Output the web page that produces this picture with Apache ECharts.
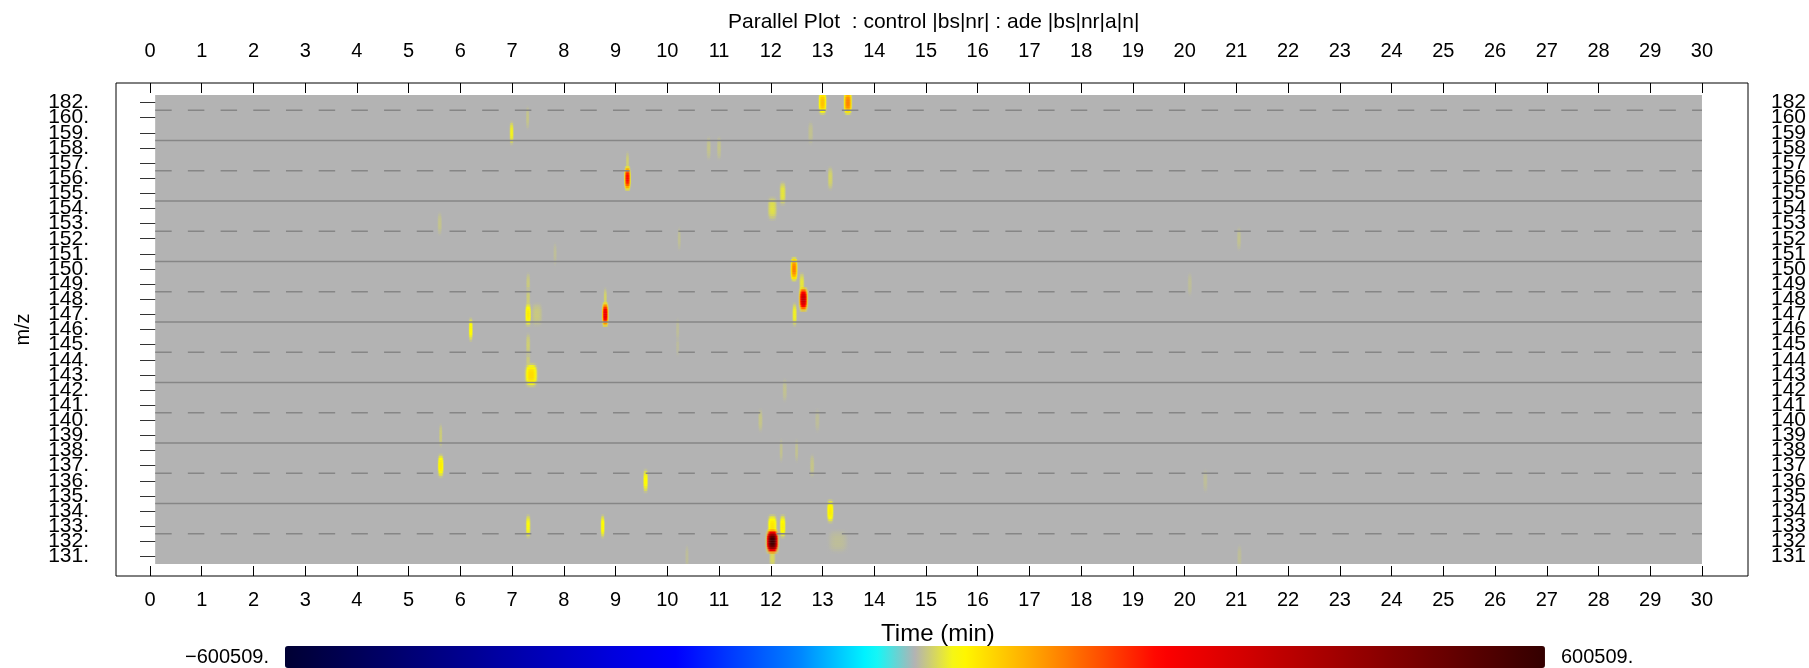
<!DOCTYPE html>
<html>
<head>
<meta charset="utf-8">
<script src="https://cdn.jsdelivr.net/npm/echarts@6/dist/echarts.min.js"></script>
<style>
html, body { margin: 0; padding: 0; background: #ffffff; }
#chart { width: 1809px; height: 668px; }
</style>
</head>
<body>
<div id="chart"></div>
<script>
// ---------------- data ----------------
const titleText = 'Parallel Plot  : control |bs|nr| : ade |bs|nr|a|n|';
const xAxisName = 'Time (min)';
const yAxisName = 'm/z';
const timeMin = 0;
const timeMax = 30;
const timeStep = 1;
const scanRange = [0.1, 30];           // acquired retention-time range (min)
const colorRange = [-600509, 600509];  // colour scale limits
const colorLabels = ['600509.', '\u2212600509.'];

// m/z rows, top to bottom
const mzCategories = ['182', '160', '159', '158', '157', '156', '155', '154', '153', '152',
  '151', '150', '149', '148', '147', '146', '145', '144', '143', '142', '141', '140',
  '139', '138', '137', '136', '135', '134', '133', '132', '131'];

// peaks: [retention time (min), m/z row, difference intensity, peak width (min)]
const peaks = [
  [13.00, '182', 90000, 0.22],
  [13.49, '182', 140000, 0.22],
  [7.30, '160', 10000, 0.10],
  [6.99, '159', 35000, 0.12],
  [12.77, '159', 8000, 0.15],
  [10.80, '158', 9000, 0.13],
  [11.00, '158', 9000, 0.13],
  [9.23, '157', 15000, 0.10],
  [9.23, '156', 230000, 0.17],
  [13.15, '156', 18000, 0.15],
  [12.23, '155', 28000, 0.18],
  [12.03, '154', 25000, 0.26],
  [5.60, '153', 9000, 0.13],
  [10.23, '152', 7000, 0.10],
  [21.05, '152', 8000, 0.13],
  [7.83, '151', 6000, 0.10],
  [12.45, '150', 140000, 0.19],
  [20.10, '149', 6000, 0.13],
  [12.60, '149', 28000, 0.15],
  [7.31, '149', 12000, 0.12],
  [7.31, '148', 14000, 0.12],
  [8.80, '148', 18000, 0.10],
  [12.63, '148', 330000, 0.23],
  [12.46, '147', 35000, 0.13],
  [7.48, '147', 12000, 0.30],
  [7.31, '147', 55000, 0.17],
  [8.80, '147', 270000, 0.17],
  [6.20, '146', 45000, 0.12],
  [10.20, '146', 6000, 0.10],
  [7.31, '145', 15000, 0.13],
  [10.20, '145', 5000, 0.10],
  [7.31, '144', 12000, 0.13],
  [7.37, '143', 70000, 0.34],
  [12.27, '142', 8000, 0.13],
  [11.80, '140', 10000, 0.13],
  [12.90, '140', 6000, 0.13],
  [5.62, '139', 14000, 0.10],
  [12.20, '138', 8000, 0.10],
  [12.50, '138', 8000, 0.10],
  [5.62, '137', 55000, 0.17],
  [12.80, '137', 10000, 0.13],
  [9.58, '136', 45000, 0.14],
  [20.40, '136', 6000, 0.13],
  [13.15, '134', 55000, 0.19],
  [7.31, '133', 40000, 0.14],
  [8.75, '133', 45000, 0.12],
  [12.03, '133', 60000, 0.26],
  [12.23, '133', 50000, 0.17],
  [13.30, '132', 6000, 0.55],
  [12.03, '132', 580000, 0.32],
  [12.03, '131', 20000, 0.18],
  [10.38, '131', 6000, 0.10],
  [21.06, '131', 6000, 0.13]
];

// colour map stops: [fraction of scale, [r, g, b]]
const cmapStops = [
  [0.000, [0, 0, 51]],
  [0.311, [0, 0, 255]],
  [0.406, [0, 128, 255]],
  [0.466, [0, 255, 255]],
  [0.500, [179, 179, 179]],
  [0.534, [255, 255, 0]],
  [0.594, [255, 165, 0]],
  [0.695, [255, 0, 0]],
  [1.000, [51, 0, 0]]
];

// ---------------- helpers ----------------
const FONT = '"Liberation Sans", Arial, Helvetica, sans-serif';

function cmap(v) {
  let f = (v - colorRange[0]) / (colorRange[1] - colorRange[0]);
  f = Math.max(0, Math.min(1, f));
  for (let i = 1; i < cmapStops.length; i++) {
    if (f <= cmapStops[i][0]) {
      const f0 = cmapStops[i - 1][0], c0 = cmapStops[i - 1][1];
      const f1 = cmapStops[i][0], c1 = cmapStops[i][1];
      const u = (f - f0) / (f1 - f0);
      return c0.map((x, k) => Math.round(x + (c1[k] - x) * u));
    }
  }
  return cmapStops[cmapStops.length - 1][1];
}
function rgba(c, a) { return 'rgba(' + c[0] + ',' + c[1] + ',' + c[2] + ',' + a.toFixed(3) + ')'; }
function profile(d, s) { return Math.exp(-Math.pow(Math.abs(d) / s, 3) / 2); }

const barColors = [];
for (let i = 0; i <= 200; i++) {
  const c = cmap(colorRange[0] + (colorRange[1] - colorRange[0]) * i / 200);
  barColors.push(rgba(c, 1));
}

const sortedPeaks = peaks.slice().sort((a, b) => Math.abs(a[2]) - Math.abs(b[2]));

function renderBackground(params, api) {
  const cs = params.coordSys;
  const x0 = api.coord([scanRange[0], 0])[0];
  const x1 = api.coord([scanRange[1], 0])[0];
  return { type: 'rect', shape: { x: x0, y: cs.y, width: x1 - x0, height: cs.height },
    style: { fill: '#b3b3b3' } };
}

function renderPeak(params, api) {
  const rt = api.value(0), yi = api.value(1), v = api.value(2), w = api.value(3);
  const c = api.coord([rt, yi]);
  const band = api.size([0, 1])[1];
  const wpx = Math.max(api.size([w, 0])[0], 3);
  const nSlices = 11;
  const H = band * 1.6;
  const sh = H / nSlices;
  const children = [];
  for (let j = 0; j < nSlices; j++) {
    const vf = profile((j + 0.5) / nSlices - 0.5, 0.32);
    const stops = [];
    for (let s = 0; s <= 14; s++) {
      const t = s / 14;
      const g = profile(t - 0.5, 0.24) * vf;
      stops.push({ offset: t, color: rgba(cmap(v * g), Math.min(1, g * 2.5)) });
    }
    children.push({
      type: 'rect',
      shape: { x: c[0] - wpx / 2, y: c[1] - H / 2 + j * sh, width: wpx, height: sh + 0.4 },
      style: { fill: { type: 'linear', x: 0, y: 0, x2: 1, y2: 0, colorStops: stops } }
    });
  }
  return { type: 'group', children: children };
}

function renderSeparator(params, api) {
  const k = params.dataIndex;
  if (k === 0 || k % 2 === 0) return { type: 'group', children: [] };
  const band = api.size([0, 1])[1];
  const p0 = api.coord([scanRange[0], k]);
  const p1 = api.coord([scanRange[1], k]);
  const y = p0[1] - band / 2;
  const dashed = (k % 4 === 1);
  return { type: 'line', shape: { x1: p0[0], y1: y, x2: p1[0], y2: y },
    style: { stroke: '#868686', lineWidth: 1.5, lineDash: dashed ? [16.5, 16.2] : null } };
}

// ---------------- chart ----------------
const chart = echarts.init(document.getElementById('chart'), null, { renderer: 'canvas' });

const xCommon = {
  type: 'value', min: timeMin, max: timeMax, interval: timeStep, gridIndex: 0,
  axisLine: { show: false },
  axisTick: { show: true, inside: true, length: 10, lineStyle: { color: '#000', width: 1 } },
  splitLine: { show: false },
  axisLabel: { fontSize: 20, color: '#000', fontFamily: FONT }
};
const yCommon = {
  type: 'category', data: mzCategories, inverse: true, gridIndex: 0,
  axisLine: { show: false },
  axisTick: { show: true, inside: true, length: 11, interval: 0, alignWithLabel: true, lineStyle: { color: '#333', width: 1 } },
  splitLine: { show: false }
};

chart.setOption({
  animation: false,
  backgroundColor: '#ffffff',
  title: {
    text: titleText, left: 728, top: 12, padding: 0,
    textStyle: { fontSize: 21, fontWeight: 'normal', color: '#000', fontFamily: FONT }
  },
  grid: [
    { left: 150, right: 99, top: 95, bottom: 104, show: false },
    { left: 116, right: 61, top: 83, bottom: 92, show: true, borderColor: '#000', borderWidth: 1, backgroundColor: 'transparent' }
  ],
  xAxis: [
    Object.assign({}, xCommon, { position: 'top', offset: 12,
      axisLabel: Object.assign({}, xCommon.axisLabel, { margin: 22 }) }),
    Object.assign({}, xCommon, { position: 'bottom', offset: 12,
      axisLabel: Object.assign({}, xCommon.axisLabel, { margin: 14 }),
      name: xAxisName, nameLocation: 'middle', nameGap: 46,
      nameTextStyle: { fontSize: 24, color: '#000', fontFamily: FONT, padding: [0, 0, 0, 24] } }),
    { type: 'value', gridIndex: 1, show: false, min: 0, max: 1 }
  ],
  yAxis: [
    Object.assign({}, yCommon, { position: 'left', offset: 34,
      axisLabel: { interval: 0, margin: 27, fontSize: 21, color: '#000', fontFamily: FONT, formatter: v => v + '.' },
      name: yAxisName, nameLocation: 'middle', nameGap: 83,
      nameTextStyle: { fontSize: 20, color: '#000', fontFamily: FONT } }),
    Object.assign({}, yCommon, { position: 'right', offset: 38,
      axisTick: Object.assign({}, yCommon.axisTick, { length: 10 }),
      axisLabel: { interval: 0, margin: 31, fontSize: 21, color: '#000', fontFamily: FONT } }),
    { type: 'value', gridIndex: 1, show: false, min: 0, max: 1 }
  ],
  visualMap: {
    type: 'continuous', seriesIndex: [], orient: 'horizontal',
    min: colorRange[0], max: colorRange[1], calculable: false, hoverLink: false,
    itemWidth: 22, itemHeight: 1260, text: colorLabels, textGap: 16,
    left: 185, bottom: 0, padding: 0,
    inRange: { color: barColors },
    textStyle: { fontSize: 20, color: '#000', fontFamily: FONT }
  },
  series: [
    { type: 'custom', name: 'background', xAxisIndex: 0, yAxisIndex: 0, z: 1, silent: true,
      renderItem: renderBackground, data: [[scanRange[0], mzCategories[0]]] },
    { type: 'custom', name: 'peaks', xAxisIndex: 0, yAxisIndex: 0, z: 2, silent: true, clip: true,
      renderItem: renderPeak, encode: { x: 0, y: 1 }, data: sortedPeaks },
    { type: 'custom', name: 'separators', xAxisIndex: 0, yAxisIndex: 0, z: 3, silent: true,
      renderItem: renderSeparator, data: mzCategories.map(m => [scanRange[0], m]) }
  ]
});
</script>
</body>
</html>
